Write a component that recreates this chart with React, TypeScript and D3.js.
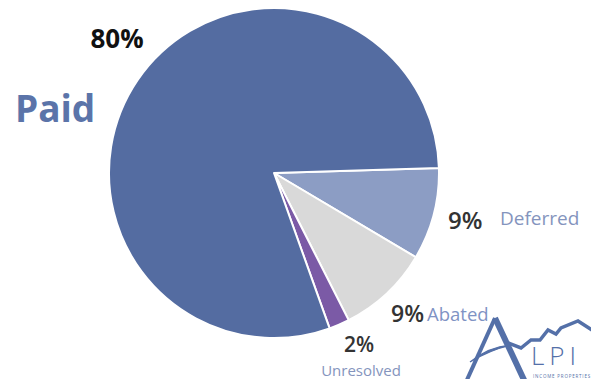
import React from "react";
import * as d3 from "d3";

const categories = ["Deferred", "Abated", "Unresolved", "Paid"];
const values = [9, 9, 2, 80];
const percentLabels = ["9%", "9%", "2%", "80%"];
const colors = ["#8c9dc4", "#d9d9d9", "#7b5aa6", "#546ca1"];

const W = 591;
const H = 379;

export default function App() {
  const cx = 274;
  const cy = 173;
  const r = 165;
  const start = (88.3 * Math.PI) / 180;
  const pie = d3
    .pie<number>()
    .sort(null)
    .value((d) => d)
    .startAngle(start)
    .endAngle(start + 2 * Math.PI);
  const arcs = pie(values);
  const arc = d3.arc<d3.PieArcDatum<number>>().innerRadius(0).outerRadius(r);

  const font = "'Open Sans', 'Noto Sans', sans-serif";
  const logo = "#5470a8";

  const mountain = d3.line()([
    [508, 343],
    [521, 348],
    [531, 340],
    [540, 340],
    [548, 330],
    [556, 334],
    [561, 328],
    [578, 321],
    [595, 332],
  ]);

  return (
    <svg
      width={W}
      height={H}
      style={{ position: "absolute", left: 0, top: 0, background: "#fff" }}
      fontFamily={font}
    >
      <g transform={`translate(${cx},${cy})`}>
        {arcs.map((a, i) => (
          <path key={categories[i]} d={arc(a) || ""} fill={colors[i]} stroke="#ffffff" strokeWidth={2} strokeLinejoin="round" />
        ))}
      </g>

      {/* Paid */}
      <text x={117} y={48} textAnchor="middle" fontSize={26} fontWeight={700} fill="#111">
        {percentLabels[3]}
      </text>
      <text x={15} y={122} fontSize={37} fontWeight={700} fill="#5b74a9">
        {categories[3]}
      </text>

      {/* Deferred */}
      <text x={448} y={229} fontSize={24} fontWeight={600} fill="#333">
        {percentLabels[0]}
      </text>
      <text x={500} y={225} fontSize={19} fill="#8494bd">
        {categories[0]}
      </text>

      {/* Abated */}
      <text x={391} y={322} fontSize={23} fontWeight={600} fill="#333">
        {percentLabels[1]}
      </text>
      <text x={427} y={321} fontSize={18.5} fill="#7f93c4">
        {categories[1]}
      </text>

      {/* Unresolved */}
      <text x={359} y={352} textAnchor="middle" fontSize={21} fontWeight={600} fill="#333">
        {percentLabels[2]}
      </text>
      <text x={361} y={376} textAnchor="middle" fontSize={15} fill="#8494bd">
        {categories[2]}
      </text>

      {/* Logo */}
      <g fill="none" stroke={logo} strokeLinecap="butt" strokeLinejoin="miter">
        <path d="M466,382 L495,318" strokeWidth={4} />
        <path d="M495,318 L525,382" strokeWidth={6} />
        <path d={mountain || ""} strokeWidth={3.5} />
      </g>
      <path d="M470,362 Q490,346 512,345 Q492,349 470,362 Z" fill={logo} stroke={logo} strokeWidth={1.2} />
      <text x={531} y={365} fontSize={26} fontWeight={300} fill={logo} letterSpacing={5}>
        LPI
      </text>
      <text x={533} y={378} fontSize={4.5} fill={logo} letterSpacing={0.8}>
        INCOME PROPERTIES
      </text>
    </svg>
  );
}
